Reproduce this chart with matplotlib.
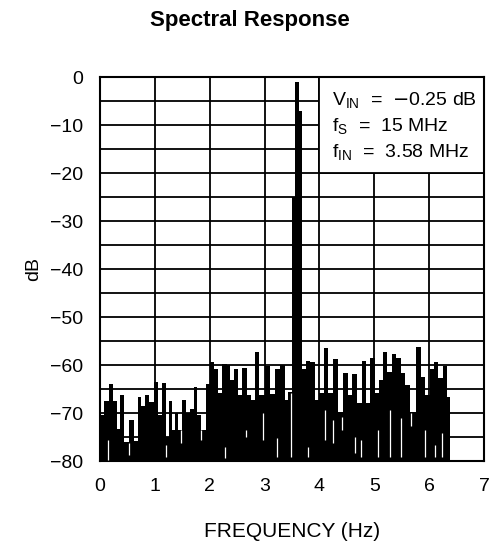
import numpy as np
import matplotlib
matplotlib.use('Agg')
import matplotlib.pyplot as plt
from matplotlib.patches import Rectangle

plt.rcParams['font.family'] = ['Liberation Sans', 'DejaVu Sans']

# spectrum bins (frequency axis as labelled, level in dB)
freq = np.array([0.03, 0.10, 0.21, 0.28, 0.33, 0.40, 0.47, 0.58, 0.65, 0.72,
                 0.78, 0.85, 0.94, 1.03, 1.09, 1.16, 1.23, 1.29, 1.35, 1.40,
                 1.46, 1.53, 1.60, 1.67, 1.74, 1.81, 1.88, 1.97, 2.05, 2.12,
                 2.18, 2.27, 2.35, 2.40, 2.47, 2.55, 2.64, 2.72, 2.78, 2.86,
                 2.95, 3.06, 3.15, 3.23, 3.33, 3.40, 3.47, 3.52, 3.60, 3.67,
                 3.71, 3.79, 3.88, 3.96, 4.04, 4.13, 4.20, 4.28, 4.38, 4.47,
                 4.56, 4.64, 4.73, 4.81, 4.89, 4.97, 5.05, 5.11, 5.20, 5.28,
                 5.36, 5.45, 5.53, 5.60, 5.70, 5.81, 5.89, 5.97, 6.05, 6.13,
                 6.21, 6.29, 6.35])
level = np.array([-70.4, -67.5, -64.0, -67.4, -73.3, -66.3, -76.0, -71.5, -75.8, -66.6,
                  -68.5, -66.3, -67.6, -63.6, -70.4, -63.8, -75.0, -67.5, -73.5, -70.0,
                  -73.5, -67.2, -70.0, -69.2, -64.5, -70.4, -73.5, -64.0, -59.3, -60.9,
                  -65.9, -59.7, -60.0, -63.1, -60.8, -66.3, -60.6, -66.3, -67.3, -57.2,
                  -66.3, -60.3, -66.0, -60.8, -60.0, -67.3, -65.6, -25.0, -1.0, -7.0,
                  -60.9, -59.2, -59.3, -67.3, -65.9, -56.5, -65.9, -58.8, -69.7, -61.6,
                  -66.3, -61.9, -68.0, -59.1, -68.0, -58.6, -65.9, -63.1, -57.2, -61.4,
                  -57.6, -58.6, -61.6, -64.2, -69.7, -56.2, -62.4, -66.3, -60.8, -59.4,
                  -62.8, -60.1, -66.6])

# thin white notches showing through the filled spectrum
gap_freq = [0.15, 0.52, 1.20, 1.48, 1.84, 2.27, 2.66, 2.98, 3.22, 3.48, 3.80,
            4.10, 4.24, 4.41, 4.64, 4.76, 5.06, 5.28, 5.48, 5.67, 5.93, 6.11, 6.23]
gap_top = [-75.6, -76.3, -76.7, -73.5, -73.5, -77.0, -73.5, -70.0, -75.3, -65.9, -77.0,
           -69.4, -71.5, -70.8, -74.9, -75.6, -73.5, -69.4, -71.1, -70.0, -73.5, -76.7, -74.2]
gap_bot = [-79.8, -78.8, -79.1, -76.3, -75.6, -79.4, -74.9, -75.6, -79.1, -79.1, -79.1,
           -75.6, -76.3, -73.5, -78.4, -79.1, -79.1, -79.1, -79.1, -72.8, -79.1, -79.1, -79.1]

fig = plt.figure(figsize=(4.99, 5.43), dpi=100)
ax = fig.add_axes([0.2004, 0.151, 0.7695, 0.707])

edges = np.concatenate([[0.0], (freq[:-1] + freq[1:]) / 2, [6.38]])
ax.stairs(level, edges, baseline=-80, fill=True, color='black', zorder=3)
ax.vlines(gap_freq, gap_bot, gap_top, colors='white', lw=0.9, zorder=4)

ax.set_xlim(0, 7)
ax.set_ylim(-80, 0)
ax.set_xticks(range(8))
ax.set_yticks(range(-80, 1, 10))
ax.set_yticks(range(-75, 0, 10), minor=True)
ax.grid(which='both', color='black', lw=1.3)
ax.set_axisbelow(True)
ax.tick_params(which='both', length=0, pad=12, labelsize=14)
for s in ax.spines.values():
    s.set_linewidth(1.5)

# annotation box
ax.add_patch(Rectangle((4, -20), 3, 20, facecolor='white', edgecolor='black',
                       lw=1.3, zorder=2))
ax.text(4.23, -5.8, r'$\mathregular{V_{IN}}$  =  $-$0.25 dB', fontsize=14,
        va='baseline', zorder=5)
ax.text(4.23, -11.3, r'$\mathregular{f_S}$  =  15 MHz', fontsize=14,
        va='baseline', zorder=5)
ax.text(4.23, -16.7, r'$\mathregular{f_{IN}}$  =  3.58 MHz', fontsize=14,
        va='baseline', zorder=5)

ax.set_xlabel('FREQUENCY (Hz)', fontsize=15, labelpad=20)
ax.set_ylabel('dB', fontsize=14, labelpad=6)
fig.text(0.5, 0.963, 'Spectral Response', ha='center', va='center',
         fontsize=16, fontweight='bold')

fig.savefig('out.png', dpi=100)
